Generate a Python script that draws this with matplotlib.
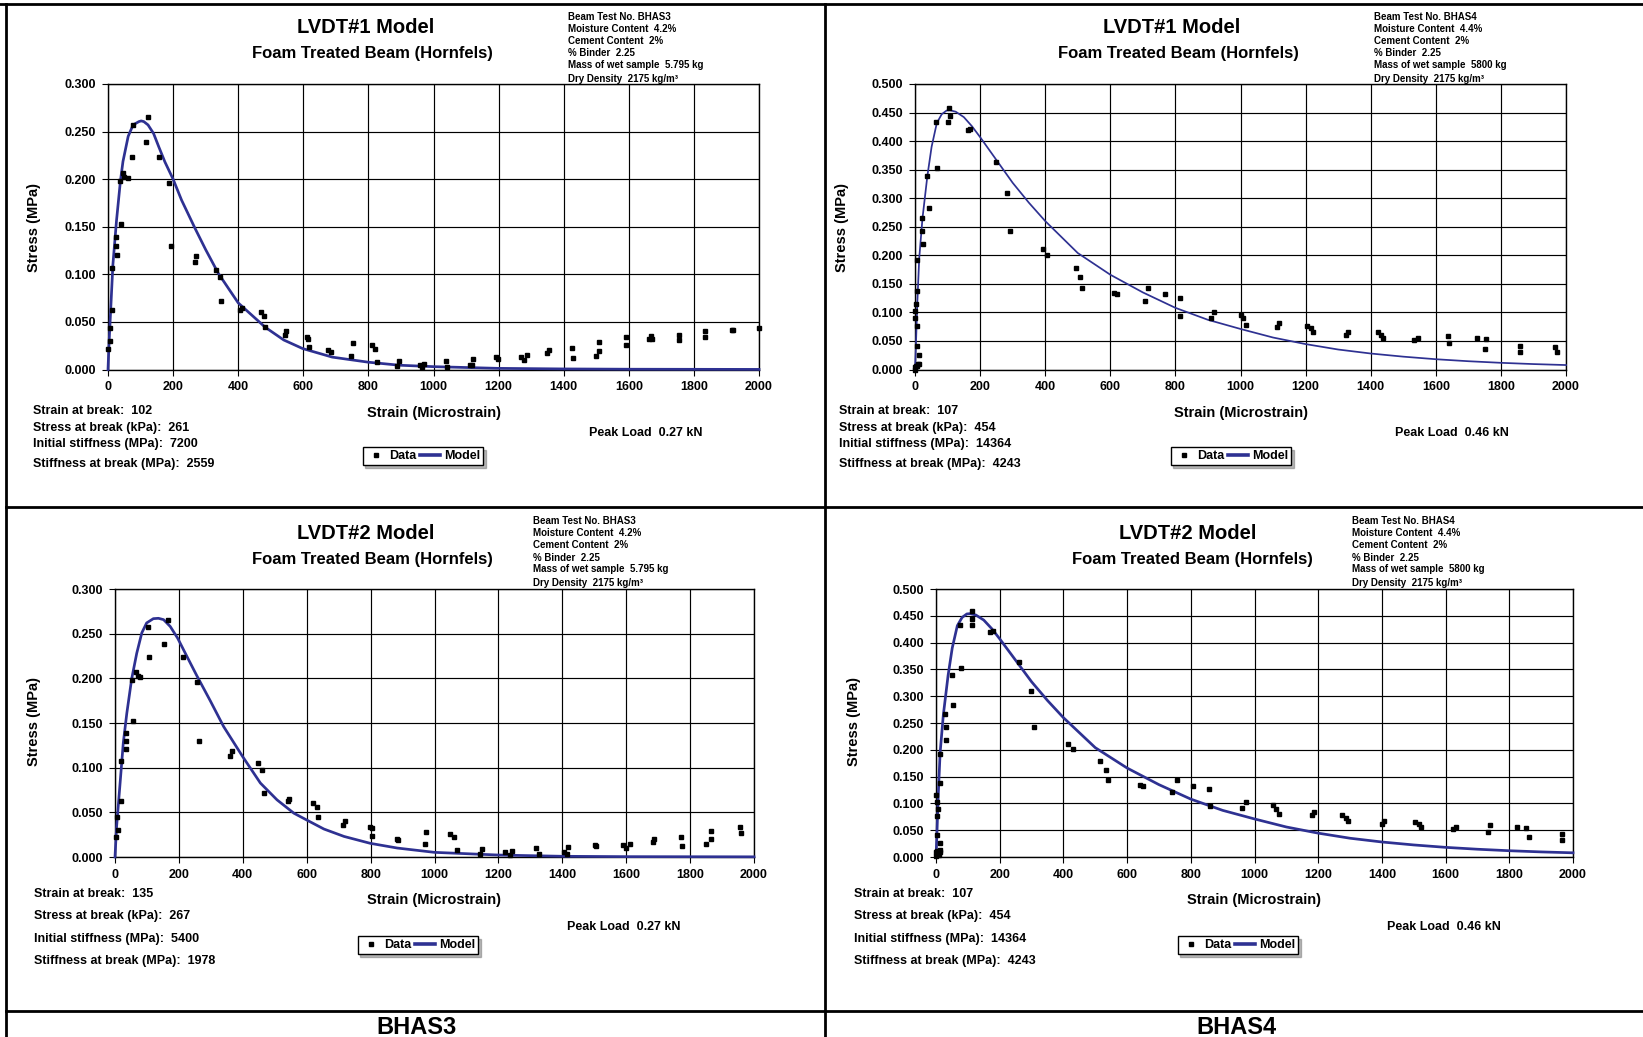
import matplotlib
matplotlib.use('Agg')
import matplotlib.pyplot as plt
from matplotlib.lines import Line2D

plt.rcParams['font.family'] = ['Liberation Sans', 'DejaVu Sans']
plt.rcParams['font.weight'] = 'bold'

# ---------------- data ----------------
# BHAS3, LVDT#1
b3_l1_x = [0, 5, 7, 12, 12, 26, 26, 29, 40, 38, 46, 49, 60, 74, 77, 116, 123, 156, 187, 193,
           266, 270, 333, 343, 348, 407, 413, 471, 478, 481, 545, 548, 611, 615, 619, 677, 684,
           748, 754, 810, 821, 827, 888, 895, 957, 965, 971,
           1039, 1042, 1113, 1118, 1121, 1191, 1199, 1269, 1277, 1287, 1349, 1354, 1424, 1430,
           1499, 1508, 1509, 1591, 1591, 1661, 1669, 1671, 1753, 1753, 1834, 1834, 1916, 1919, 2000]
b3_l1_y = [0.022, 0.044, 0.030, 0.063, 0.107, 0.1395, 0.130, 0.120, 0.1525, 0.198, 0.207, 0.2025,
           0.2015, 0.2235, 0.257, 0.239, 0.2654, 0.2235, 0.1955, 0.130, 0.113, 0.119, 0.105, 0.0975,
           0.0724, 0.063, 0.065, 0.0605, 0.056, 0.045, 0.036, 0.040, 0.034, 0.0325, 0.0234, 0.020,
           0.0185, 0.0143, 0.0276, 0.0255, 0.022, 0.008, 0.0038, 0.0087, 0.0045, 0.0024, 0.0063,
           0.0094, 0.003, 0.0045, 0.0045, 0.0108, 0.0136, 0.0115, 0.0136, 0.010, 0.015, 0.017, 0.020,
           0.0227, 0.0122, 0.0143, 0.019, 0.029, 0.034, 0.026, 0.0318, 0.0353, 0.0318, 0.036, 0.031,
           0.040, 0.0346, 0.041, 0.042, 0.0437]
b3_l1_model_x = [0, 3, 8, 15, 26, 38, 46, 62, 77, 95, 102, 110, 123, 140, 156, 175, 200, 226, 267,
                 300, 339, 400, 483, 540, 598, 689, 799, 895, 1000, 1200, 1400, 1600, 2000]
b3_l1_model_y = [0, 0.026, 0.061, 0.110, 0.156, 0.1976, 0.2186, 0.245, 0.257, 0.2605, 0.2612, 0.2605,
                 0.257, 0.248, 0.234, 0.218, 0.200, 0.178, 0.1486, 0.126, 0.101, 0.070, 0.0444,
                 0.031, 0.022, 0.013, 0.0077, 0.0045, 0.003, 0.0012, 0.0006, 0.0003, 0.0001]

# BHAS4, LVDT#1
b4_l1_x = [0, 0, 2, 10, 13, 7, 13, 7, 7, 1, 1, 2, 7, 7, 26, 23, 23, 44, 38, 69, 66, 100, 103, 106,
           163, 169, 249, 283, 293, 393, 406, 495, 508, 512, 612, 621, 707, 716, 767, 813, 815,
           910, 918, 1000, 1007,
           1018, 1111, 1119, 1203, 1216, 1223, 1323, 1330, 1423, 1431, 1437, 1534, 1544, 1639,
           1641, 1727, 1755, 1752, 1858, 1858, 1965, 1971]
b4_l1_y = [0, 0.004, 0.006, 0.009, 0.0105, 0.0065, 0.025, 0.0415, 0.0766, 0.0895, 0.102, 0.1146,
           0.137, 0.191, 0.219, 0.243, 0.266, 0.2836, 0.339, 0.3526, 0.4327, 0.4333, 0.4579, 0.4444,
           0.420, 0.4216, 0.3632, 0.3094, 0.2427, 0.2111, 0.2006, 0.1778, 0.162, 0.142, 0.134,
           0.1316, 0.120, 0.1433, 0.1316, 0.1257, 0.0936, 0.0906, 0.1012, 0.0953, 0.0895,
           0.0778, 0.0749, 0.0807, 0.0766, 0.0731, 0.0649, 0.0602, 0.0649, 0.0649, 0.0602, 0.0544,
           0.052, 0.0556, 0.0579, 0.0462, 0.0544, 0.0532, 0.0357, 0.041, 0.031, 0.0392, 0.0298]

# BHAS3, LVDT#2
b3_l2_x = [2, 5, 9, 18, 18, 35, 35, 35, 56, 54, 67, 71, 78, 106, 103, 154, 165, 212, 257, 263,
           361, 367, 448, 459, 465, 541, 545, 621, 633, 635, 713, 720, 799, 803, 805, 883, 886,
           970, 974,
           1047, 1061, 1070, 1143, 1149, 1222, 1237, 1243, 1318, 1328, 1406, 1414, 1418, 1501,
           1506, 1590, 1599, 1611, 1683, 1687, 1770, 1774, 1851, 1864, 1864, 1955, 1958]
b3_l2_y = [0.022, 0.0444, 0.0306, 0.0627, 0.107, 0.1205, 0.130, 0.139, 0.1526, 0.198, 0.2075,
           0.203, 0.2015, 0.2239, 0.2575, 0.2388, 0.2657, 0.2239, 0.1959, 0.130, 0.113, 0.119,
           0.1052, 0.0978, 0.072, 0.0627, 0.0653, 0.0608, 0.0563, 0.0451, 0.0362, 0.0403, 0.034,
           0.0328, 0.0235, 0.0201, 0.019, 0.0146, 0.028,
           0.0261, 0.022, 0.0082, 0.0037, 0.009, 0.0052, 0.0019, 0.0063, 0.0097, 0.0037, 0.0052,
           0.0037, 0.0112, 0.0134, 0.0119, 0.013, 0.0101, 0.0149, 0.0168, 0.0205, 0.0228, 0.0123,
           0.0146, 0.0198, 0.0295, 0.034, 0.0265]
b3_l2_model_x = [0, 5, 16, 26, 37, 52, 68, 84, 99, 120, 136, 152, 173, 196, 225, 256, 298, 340,
                 399, 455, 507, 560, 598, 654, 717, 799, 884, 1000, 1200, 1400, 1600, 2000]
b3_l2_model_y = [0, 0.034, 0.083, 0.128, 0.161, 0.199, 0.228, 0.251, 0.262, 0.2668, 0.2672, 0.2657,
                 0.258, 0.245, 0.2246, 0.203, 0.175, 0.146, 0.1127, 0.0828, 0.064, 0.049, 0.0418,
                 0.0313, 0.023, 0.0153, 0.010, 0.0052, 0.0022, 0.0008, 0.0004, 0.0002]

# BHAS4, LVDT#2
b4_l2_x = [0, 8, 1, 3, 13, 13, 14, 4, 4, 5, 2, 1, 12, 13, 31, 31, 28, 53, 50, 79, 75, 113, 114, 114,
           171, 180, 262, 297, 309, 413, 429, 516, 533, 539, 641, 650, 741, 756, 807, 856, 861,
           961, 974,
           1057, 1067, 1078, 1180, 1188, 1276, 1287, 1295, 1400, 1406, 1505, 1515, 1523, 1622,
           1632, 1733, 1739, 1823, 1852, 1861, 1965, 1965]
b4_l2_y = [0.002, 0.004, 0.0087, 0.0118, 0.0087, 0.0137, 0.026, 0.0417, 0.0771, 0.090, 0.1032,
           0.1163, 0.1374, 0.192, 0.219, 0.2425, 0.2668, 0.2842, 0.3396, 0.3526, 0.4328, 0.4328,
           0.4447, 0.459, 0.4204, 0.421, 0.3638, 0.3103, 0.2432, 0.2114, 0.2015, 0.1791, 0.1629,
           0.143, 0.135, 0.1331, 0.1206, 0.1437, 0.1331, 0.1262, 0.0958, 0.092, 0.102,
           0.0964, 0.0902, 0.0796, 0.0777, 0.0833, 0.0784, 0.0734, 0.0665, 0.0622, 0.0672, 0.0653,
           0.0622, 0.056, 0.0522, 0.056, 0.0473, 0.0597, 0.056, 0.0541, 0.0367, 0.0423, 0.0323]

# BHAS4 model (same parameters for LVDT#1 and LVDT#2)
b4_model_x = [0, 3, 7, 13, 23, 38, 51, 67, 82, 97, 107, 125, 150, 175, 200, 250, 300, 350, 400,
              500, 600, 700, 800, 900, 1000, 1100, 1200, 1300, 1400, 1500, 1600, 1700, 1800,
              1900, 2000]
b4_model_y = [0, 0.045, 0.115, 0.195, 0.265, 0.339, 0.39, 0.4316, 0.447, 0.4535, 0.454, 0.4515,
              0.442, 0.426, 0.407, 0.367, 0.327, 0.292, 0.26, 0.204, 0.166, 0.135, 0.108, 0.087,
              0.071, 0.056, 0.0445, 0.035, 0.028, 0.0225, 0.018, 0.0145, 0.0117, 0.0095, 0.0078]

x_ticks = [0, 200, 400, 600, 800, 1000, 1200, 1400, 1600, 1800, 2000]

info_bhas3 = ["Beam Test No. BHAS3", "Moisture Content  4.2%", "Cement Content  2%",
              "% Binder  2.25", "Mass of wet sample  5.795 kg", "Dry Density  2175 kg/m\u00b3"]
info_bhas4 = ["Beam Test No. BHAS4", "Moisture Content  4.4%", "Cement Content  2%",
              "% Binder  2.25", "Mass of wet sample  5800 kg", "Dry Density  2175 kg/m\u00b3"]

stats_b3_l1 = ["Strain at break:  102", "Stress at break (kPa):  261",
               "Initial stiffness (MPa):  7200", "Stiffness at break (MPa):  2559"]
stats_b3_l2 = ["Strain at break:  135", "Stress at break (kPa):  267",
               "Initial stiffness (MPa):  5400", "Stiffness at break (MPa):  1978"]
stats_b4 = ["Strain at break:  107", "Stress at break (kPa):  454",
            "Initial stiffness (MPa):  14364", "Stiffness at break (MPa):  4243"]

# ---------------- figure ----------------
W, H = 1643, 1037
NAVY = '#2E3192'
fig = plt.figure(figsize=(W / 100, H / 100), dpi=100)
fig.patch.set_facecolor('white')


def fx(x):
    return x / W


def fy(y):
    return 1 - y / H


def txt(x, yc, s, size, ha='left', rot=0):
    if rot:
        fig.text(fx(x), fy(yc), s, fontsize=size, ha='center', va='center',
                 rotation=rot, fontweight='bold')
    else:
        yb = yc + 0.36 * size * 100 / 72
        fig.text(fx(x), fy(yb), s, fontsize=size, ha=ha, va='baseline', fontweight='bold')


def panel(box, dx, dy, mx, my, ymax, lw, title, info, stats, peak, pos):
    l, t, r, b = box
    ax = fig.add_axes([fx(l), fy(b), (r - l) / W, (b - t) / H])
    ax.set_xlim(0, 2000)
    ax.set_ylim(0, ymax)
    ax.set_xticks(x_ticks)
    yt = [i * 0.05 for i in range(int(round(ymax / 0.05)) + 1)]
    ax.set_yticks(yt)
    ax.set_yticklabels(['%.3f' % v for v in yt])
    ax.grid(True, color='black', lw=0.85)
    ax.set_axisbelow(True)
    for sp in ax.spines.values():
        sp.set_linewidth(1.0)
        sp.set_color('black')
    ax.tick_params(direction='out', length=4, width=0.8, labelsize=9, pad=4.5)
    for lab in ax.get_xticklabels() + ax.get_yticklabels():
        lab.set_fontweight('bold')
    ax.plot(mx, my, color=NAVY, lw=lw, clip_on=False, zorder=3)
    ax.plot(dx, dy, ls='none', marker='s', ms=2.8, color='black', clip_on=False, zorder=4)

    txt(pos['title'][0], pos['title'][1], title, 14.5, ha='center')
    txt(pos['sub'][0], pos['sub'][1], "Foam Treated Beam (Hornfels)", 12, ha='center')
    for s, yy in zip(info, pos['info_y']):
        txt(pos['info_x'], yy, s, 7)
    txt(pos['ylab'][0], pos['ylab'][1], "Stress (MPa)", 10.5, rot=90)
    txt(pos['xlab'][0], pos['xlab'][1], "Strain (Microstrain)", 10.5, ha='center')
    for s, yy in zip(stats, pos['stats_y']):
        txt(pos['stats_x'], yy, s, 9)
    txt(pos['peak'][0], pos['peak'][1], peak, 9, ha='center')
    handles = [Line2D([], [], ls='none', marker='s', ms=2.6, color='black'),
               Line2D([], [], color=NAVY, lw=2.6)]
    fig.legend(handles, ['Data', 'Model'], loc='center',
               bbox_to_anchor=(fx(pos['leg'][0]), fy(pos['leg'][1])), ncol=2,
               fontsize=9, frameon=True, fancybox=False, edgecolor='black', framealpha=1,
               borderpad=0.25, handlelength=1.6, handletextpad=0.3, columnspacing=0.3,
               borderaxespad=0, shadow={'color': '0.45'},
               prop={'weight': 'bold', 'size': 9})
    return ax


top_info_y = [16, 28, 40, 53, 65, 78]
bot_info_y = [520, 532.5, 544.7, 557.6, 568.8, 582.7]

panel((108, 84, 759, 369.5), b3_l1_x, b3_l1_y, b3_l1_model_x, b3_l1_model_y, 0.3, 1.95,
      "LVDT#1 Model", info_bhas3, stats_b3_l1, "Peak Load  0.27 kN",
      dict(title=(366, 26), sub=(372, 52), info_x=568, info_y=top_info_y, ylab=(34, 227),
           xlab=(434, 412), stats_x=33, stats_y=[409, 427, 443, 462], peak=(646, 432),
           leg=(423, 456)))

panel((915, 84, 1566, 369.5), b4_l1_x, b4_l1_y, b4_model_x, b4_model_y, 0.5, 1.25,
      "LVDT#1 Model", info_bhas4, stats_b4, "Peak Load  0.46 kN",
      dict(title=(1172, 26), sub=(1178, 52), info_x=1374, info_y=top_info_y, ylab=(842, 227),
           xlab=(1241, 412), stats_x=839, stats_y=[409, 427, 443, 462], peak=(1452, 432),
           leg=(1231, 456)))

panel((115, 589, 754, 857), b3_l2_x, b3_l2_y, b3_l2_model_x, b3_l2_model_y, 0.3, 1.95,
      "LVDT#2 Model", info_bhas3, stats_b3_l2, "Peak Load  0.27 kN",
      dict(title=(366, 532), sub=(372, 558), info_x=533, info_y=bot_info_y, ylab=(34, 722),
           xlab=(434, 899), stats_x=34.5, stats_y=[892.5, 915, 937.6, 959.7], peak=(624, 926),
           leg=(418, 945)))

panel((936, 589, 1573, 857), b4_l2_x, b4_l2_y, b4_model_x, b4_model_y, 0.5, 1.95,
      "LVDT#2 Model", info_bhas4, stats_b4, "Peak Load  0.46 kN",
      dict(title=(1188, 532), sub=(1192, 558), info_x=1352, info_y=bot_info_y, ylab=(854.5, 722),
           xlab=(1254, 899), stats_x=854.5, stats_y=[892.5, 915, 937.6, 959.7], peak=(1444, 926),
           leg=(1238, 945)))

# bottom labels
for s, xc in [("BHAS3", 416), ("BHAS4", 1236)]:
    fig.text(fx(xc), fy(1034), s, fontsize=17, ha='center', va='baseline', fontweight='bold')

# panel frame lines
frame = [((0, 4), (W, 4)), ((6, 4), (6, H)), ((825, 4), (825, H)),
         ((6, 507), (W, 507)), ((6, 1011), (W, 1011))]
for (x0, y0), (x1, y1) in frame:
    fig.add_artist(Line2D([fx(x0), fx(x1)], [fy(y0), fy(y1)], color='black', lw=2.0,
                          transform=fig.transFigure))

fig.savefig('out.png', dpi=100)
